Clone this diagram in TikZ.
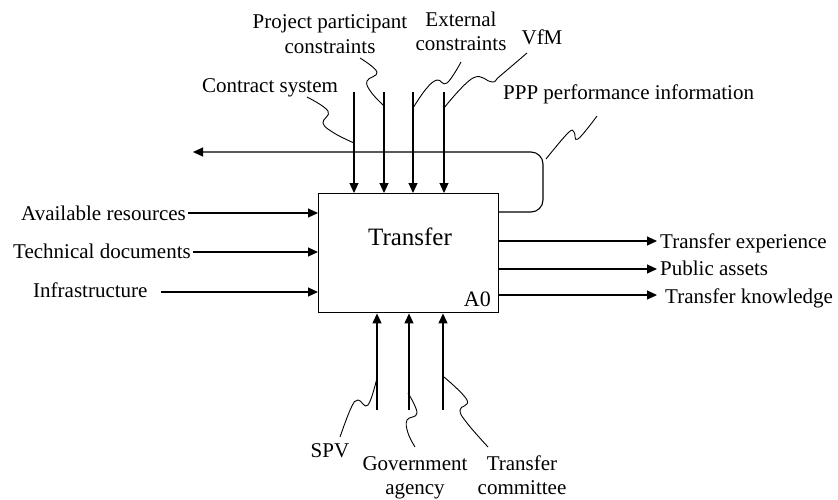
\documentclass[tikz,border=0pt]{standalone}
\usepackage{fontspec}
\setmainfont{Liberation Serif}
\usetikzlibrary{arrows.meta}
\begin{document}
\begin{tikzpicture}[x=1pt,y=-1pt,
  lbl/.style={font=\fontsize{21}{25}\selectfont, inner sep=0pt, anchor=base},
  lbll/.style={lbl, anchor=base west},
  arr/.style={line width=1.1pt, -{Triangle[length=10pt,width=9pt]}},
  wig/.style={line width=0.9pt},
  boxst/.style={draw, line width=1.4pt, minimum width=180pt, minimum height=119pt, inner sep=0pt, anchor=north west}]
\useasboundingbox (0,0) rectangle (838,499);
\fill[white] (0,0) rectangle (838,499);
% main box
\node[boxst] (box) at (318,193) {};
\node[lbl, font=\fontsize{25}{30}\selectfont] (title) at (410,245) {Transfer};
\node[lbl, anchor=base east, font=\fontsize{22}{26}\selectfont] (a0) at (491,306) {A0};

% top (control) arrows
\coordinate (c1) at (354,92);
\coordinate (c2) at (384,92);
\coordinate (c3) at (413,92);
\coordinate (c4) at (444,92);
\foreach \c in {c1,c2,c3,c4} \draw[arr] (\c) -- (\c |- box.north);

% feedback loop
\coordinate (fbr) at (498,212);
\coordinate (fbend) at (193,152);
\draw[arr, rounded corners=12pt] (fbr) -- (543,212) -- (543,152) -- (fbend);

% left inputs
\node[lbll] (in1) at (21,220) {Available resources};
\node[lbll] (in2) at (13,258) {Technical documents};
\node[lbll] (in3) at (33,297) {Infrastructure};
\coordinate (i1) at (188,213);
\coordinate (i2) at (193,252);
\coordinate (i3) at (161,292);
\foreach \c in {i1,i2,i3} \draw[arr] (\c) -- (\c -| box.west);

% right outputs
\node[lbll] (out1) at (660,248) {Transfer experience};
\node[lbll] (out2) at (660,275) {Public assets};
\node[lbll] (out3) at (665,303) {Transfer knowledge};
\coordinate (o1) at (657,241);
\coordinate (o2) at (657,269);
\coordinate (o3) at (657,295);
\foreach \c in {o1,o2,o3} \draw[arr] (\c -| box.east) -- (\c);

% bottom mechanisms
\coordinate (m1) at (377,410);
\coordinate (m2) at (409,410);
\coordinate (m3) at (443,410);
\foreach \c in {m1,m2,m3} \draw[arr] (\c) -- (\c |- box.south);

% top labels
\node[lbl] (pp1) at (330,28) {Project participant};
\node[lbl] (pp2) at (330,53) {constraints};
\node[lbl] (ec1) at (461,26) {External};
\node[lbl] (ec2) at (461,50) {constraints};
\node[lbl] (vfm) at (542,44) {VfM};
\node[lbl] (cs) at (270,92) {Contract system};
\node[lbll] (ppp) at (503,99) {PPP performance information};

% bottom labels
\node[lbl] (spv) at (330,457) {SPV};
\node[lbl] (ga1) at (415,470) {Government};
\node[lbl] (ga2) at (415,494) {agency};
\node[lbl] (tc1) at (522,470) {Transfer};
\node[lbl] (tc2) at (522,494) {committee};

% squiggle leader lines
\draw[wig] plot[smooth, tension=0.7] coordinates {(307,97) (328,111) (323,123) (334,133) (354,143)};
\draw[wig] plot[smooth, tension=0.7] coordinates {(360,58) (377,72) (367,81) (371,92) (384,106)};
\draw[wig] plot[smooth, tension=0.7] coordinates {(461,62) (447,83) (437,80) (426,89) (413,108)};
\draw[wig] plot[smooth, tension=0.7] coordinates {(527,53) (500,76) (492,82) (473,78) (444,108)};
\draw[wig] plot[smooth, tension=0.7] coordinates {(546,159) (568,133) (574,132) (578,139) (597,116)};
\draw[wig] plot[smooth, tension=0.7] coordinates {(377,378) (368,405) (358,400) (351,408) (340,437)};
\draw[wig] plot[smooth, tension=0.7] coordinates {(408,393) (417,413) (407,420) (408,433) (415,447)};
\draw[wig] plot[smooth, tension=0.7] coordinates {(444,377) (467,400) (460,410) (467,423) (488,447)};
\end{tikzpicture}
\end{document}
